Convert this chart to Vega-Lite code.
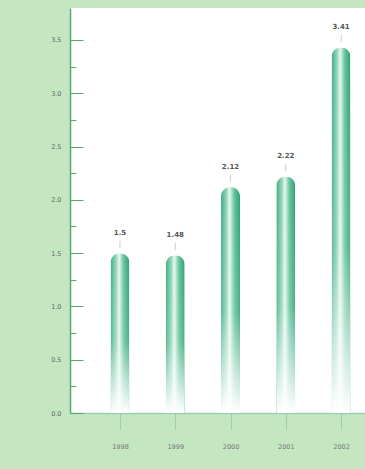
{
  "$schema": "https://vega.github.io/schema/vega-lite/v6.json",
  "autosize": {"type": "none"},
  "width": 295,
  "height": 405,
  "padding": {"left": 70, "top": 8, "right": 0, "bottom": 56},
  "background": "#c4e6c1",
  "view": {"fill": "white", "stroke": null},
  "data": {"values": [
    {"year": "1998", "value": 1.5, "label": "1.5"},
    {"year": "1999", "value": 1.48, "label": "1.48"},
    {"year": "2000", "value": 2.12, "label": "2.12"},
    {"year": "2001", "value": 2.22, "label": "2.22"},
    {"year": "2002", "value": 3.43, "label": "3.41"}
  ]},
  "resolve": {"axis": {"y": "independent"}},
  "layer": [
    {
      "mark": {"type": "rule", "opacity": 0},
      "encoding": {
        "y": {"datum": 0, "type": "quantitative",
          "scale": {"domain": [0, 3.8], "nice": false},
          "axis": {"title": null, "orient": "left", "values": [0.25, 0.75, 1.25, 1.75, 2.25, 2.75, 3.25], "tickSize": -6, "tickColor": "#5aa870", "domain": false, "labels": false, "grid": false}}
      }
    },
    {
      "encoding": {
        "x": {"field": "year", "type": "ordinal",
          "scale": {"type": "point", "padding": 0.669, "align": 0.676},
          "axis": {"title": null, "labelAngle": 0, "domainColor": "#9ccfb0", "domainWidth": 1.5, "tickColor": "#9ccfb0", "tickSize": 16, "labelPadding": 14, "labelFontSize": 6.5, "labelColor": "#777", "labelFont": "DejaVu Sans"}},
        "y": {"field": "value", "type": "quantitative",
          "scale": {"domain": [0, 3.8], "nice": false},
          "axis": {"title": null, "orient": "left", "values": [0, 0.5, 1, 1.5, 2, 2.5, 3, 3.5], "format": ".1f", "tickSize": -13, "tickColor": "#5aa870", "domainColor": "#5aa870", "domainWidth": 1.5, "labelPadding": 22, "labelFontSize": 6.5, "labelColor": "#666", "labelFont": "DejaVu Sans", "grid": false}}
      },
      "layer": [
        {"mark": {"type": "bar", "width": 19, "cornerRadiusTopLeft": 9.5, "cornerRadiusTopRight": 9.5,
          "color": {"gradient": "linear", "x1": 0, "y1": 0, "x2": 1, "y2": 0,
            "stops": [{"offset": 0, "color": "#3aab82"}, {"offset": 0.3, "color": "#98d8bc"}, {"offset": 0.45, "color": "#e8f7f0"}, {"offset": 0.7, "color": "#64c49d"}, {"offset": 1, "color": "#2e9f75"}]}}},
        {"mark": {"type": "bar", "width": 19, "cornerRadiusTopLeft": 9.5, "cornerRadiusTopRight": 9.5,
          "color": {"gradient": "linear", "x1": 0, "y1": 0, "x2": 0, "y2": 1,
            "stops": [{"offset": 0, "color": "rgba(255,255,255,0)"}, {"offset": 0.55, "color": "rgba(255,255,255,0.15)"}, {"offset": 1, "color": "rgba(255,255,255,1)"}]}}},
        {"mark": {"type": "text", "dy": -9, "text": "|", "fontSize": 7, "fill": "#aaa"}},
        {"mark": {"type": "text", "dy": -20, "fontSize": 7, "fontWeight": "bold", "fill": "#555", "font": "DejaVu Sans"},
          "encoding": {"text": {"field": "label"}}}
      ]
    }
  ]
}
